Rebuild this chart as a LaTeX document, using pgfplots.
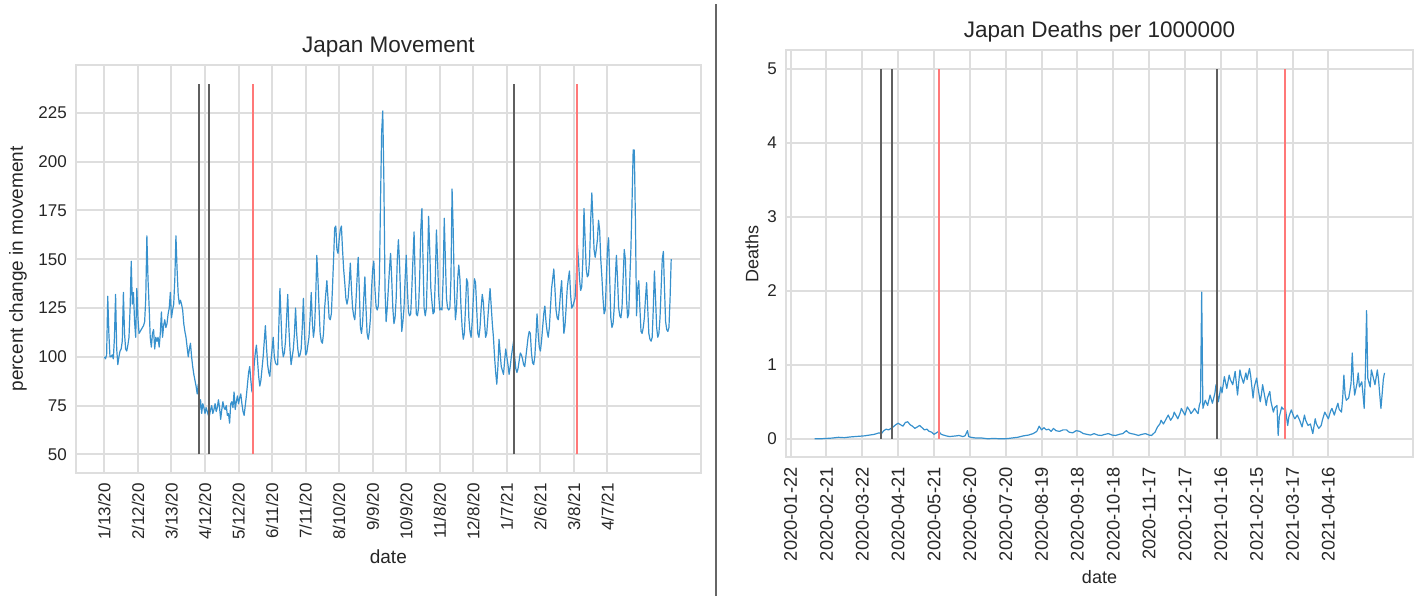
\documentclass[border=0pt]{standalone}
\usepackage{fontspec}
\setmainfont{Liberation Sans}
\usepackage{pgfplots}
\pgfplotsset{compat=1.18}
\definecolor{lineblue}{RGB}{55,145,205}
\definecolor{gridgray}{RGB}{222,222,222}
\definecolor{txt}{RGB}{38,38,38}
\definecolor{vblack}{RGB}{95,95,95}
\definecolor{vred}{RGB}{255,120,120}
\pgfplotsset{
  jstyle/.style={
    scale only axis,
    axis line style={draw=gridgray, line width=2pt},
    grid=major,
    major grid style={draw=gridgray, line width=2pt},
    major tick length=0pt,
    tick label style={font=\fontsize{17}{19}\selectfont, text=txt},
    /pgf/number format/assume math mode=true,
    label style={font=\fontsize{19}{21}\selectfont, text=txt},
    title style={font=\fontsize{22.5}{24}\selectfont, text=txt, inner sep=0pt, anchor=south, at={(0.5,1)}, yshift=2pt},
    xticklabel style={rotate=90, anchor=east, inner sep=0pt},
    yticklabel style={anchor=east, inner sep=0pt},
    xticklabel shift=10pt,
    yticklabel shift=9pt,
    xtick={0,30,...,450},
  },
  dataline/.style={color=lineblue, line width=1.2pt, line join=round},
  vk/.style={color=vblack, line width=2pt},
  vr/.style={color=vred, line width=2pt},
}
\begin{document}
\begin{tikzpicture}
\path (0pt,0pt) rectangle (1420pt,596pt);
\draw[black!60, line width=1.2pt] (716pt,0pt) -- (716pt,592pt);
% ---------------- left ----------------
\begin{axis}[jstyle,
  at={(76pt,123pt)}, anchor=south west,
  width=624.7pt, height=408pt,
  xmin=-25.4, xmax=533.4, ymin=40.5, ymax=249.5,
  ytick={50,75,...,225},
  xticklabels={1/13/20,2/12/20,3/13/20,4/12/20,5/12/20,6/11/20,7/11/20,8/10/20,9/9/20,10/9/20,11/8/20,12/8/20,1/7/21,2/6/21,3/8/21,4/7/21},
  title={Japan Movement},
  xlabel={date}, ylabel={percent change in movement},
  xlabel style={at={(axis description cs:0.5,0)}, anchor=center, yshift=-84pt},
  ylabel style={at={(axis description cs:-0.093,0.5)}, anchor=center},
]
\addplot[dataline] coordinates {
(0,100)(1,99)(2,101)(3,131)(4,112)(5,100)(6,100)(7,101)(8,99)(9,110)(10,132)(11,104)(12,96)(13,100)(14,103)(15,104)(16,108)(17,133)(18,112)(19,104)(20,103)(21,106)(22,110)(23,125)(24,149)(25,127)(26,133)(27,118)(28,110)(29,135)(30,120)(31,112)(32,113)(33,114)(34,115)(35,116)(36,118)(37,130)(38,162)(39,140)(40,126)(41,110)(42,105)(43,112)(44,114)(45,104)(46,110)(47,108)(48,110)(49,105)(50,112)(51,123)(52,110)(53,116)(54,119)(55,115)(56,117)(57,122)(58,125)(59,133)(60,120)(61,124)(62,127)(63,140)(64,162)(65,145)(66,132)(67,127)(68,129)(69,127)(70,124)(71,117)(72,113)(73,110)(74,105)(75,100)(76,104)(77,107)(78,100)(79,95)(80,91)(81,88)(82,85)(83,81)(84,86)(85,73)(86,78)(87,71)(88,76)(89,74)(90,71)(91,74)(92,72)(93,70)(94,70)(95,73)(96,75)(97,71)(98,73)(99,76)(100,72)(101,74)(102,78)(103,74)(104,68)(105,73)(106,77)(107,74)(108,73)(109,75)(110,70)(111,71)(112,66)(113,76)(114,77)(115,74)(116,82)(117,73)(118,77)(119,80)(120,76)(121,79)(122,81)
(123,76)(124,72)(125,70)(126,75)(127,80)(128,86)(129,92)(130,95)(131,88)(132,82)(133,85)(134,96)(135,102)(136,106)(137,98)(138,90)(139,85)(140,88)(141,94)(142,100)(143,108)(144,116)(145,105)(146,96)(147,92)(148,90)(149,98)(150,104)(151,110)(152,100)(153,97)(154,96)(155,96)(156,115)(157,135)(158,120)(159,105)(160,100)(161,102)(162,108)(163,120)(164,132)(165,115)(166,104)(167,96)(168,100)(169,104)(170,112)(171,125)(172,112)(173,104)(174,100)(175,101)(176,104)(177,115)(178,130)(179,112)(180,101)(181,102)(182,106)(183,110)(184,120)(185,133)(186,118)(187,110)(188,115)(189,130)(190,152)(191,140)(192,125)(193,112)(194,108)(195,107)(196,112)(197,125)(198,132)(199,139)(200,130)(201,120)(202,119)(203,122)(204,135)(205,150)(206,166)(207,167)(208,155)(209,153)(210,160)(211,165)(212,167)(213,155)(214,145)(215,138)(216,130)(217,127)(218,130)(219,138)(220,148)(221,135)(222,125)(223,121)(224,119)(225,128)(226,140)(227,151)(228,135)(229,115)(230,112)(231,118)(232,130)(233,141)(234,125)(235,112)(236,109)(237,113)(238,120)(239,135)(240,145)(241,149)(242,135)(243,126)(244,124)(245,126)(246,140)(247,180)(248,215)(249,226)(250,190)(251,135)(252,118)
(253,125)(254,135)(255,145)(256,153)(257,140)(258,125)(259,117)(260,120)(261,130)(262,150)(263,160)(264,148)(265,130)(266,113)(267,118)(268,125)(269,140)(270,152)(271,135)(272,123)(273,121)(274,122)(275,135)(276,150)(277,164)(278,140)(279,122)(280,121)(281,125)(282,140)(283,165)(284,176)(285,150)(286,125)(287,121)(288,125)(289,145)(290,172)(291,155)(292,135)(293,128)(294,122)(295,123)(296,140)(297,165)(298,150)(299,132)(300,124)(301,125)(302,124)(303,140)(304,171)(305,150)(306,130)(307,125)(308,124)(309,125)(310,140)(311,186)(312,165)(313,135)(314,119)(315,125)(316,140)(317,147)(318,140)(319,125)(320,115)(321,109)(322,112)(323,125)(324,140)(325,138)(326,120)(327,113)(328,110)(329,118)(330,130)(331,140)(332,138)(333,125)(334,112)(335,110)(336,115)(337,125)(338,132)(339,128)(340,118)(341,110)(342,112)(343,120)(344,128)(345,135)(346,126)(347,117)(348,110)(349,100)(350,92)(351,86)(352,95)(353,109)(354,102)(355,95)(356,93)(357,91)(358,98)(359,104)(360,100)(361,96)(362,91)(363,95)(364,100)(365,104)(366,108)(367,100)(368,94)(369,92)(370,94)(371,98)(372,102)(373,101)(374,99)(375,96)(376,95)(377,100)(378,105)(379,110)(380,113)(381,112)
(382,102)(383,97)(384,96)(385,100)(386,110)(387,122)(388,112)(389,105)(390,103)(391,108)(392,115)(393,122)(394,126)(395,118)(396,113)(397,110)(398,115)(399,125)(400,135)(401,140)(402,145)(403,135)(404,124)(405,120)(406,119)(407,125)(408,133)(409,139)(410,125)(411,112)(412,116)(413,125)(414,135)(415,140)(416,144)(417,132)(418,125)(419,126)(420,128)(421,130)(422,140)(423,158)(424,150)(425,140)(426,134)(427,136)(428,150)(429,176)(430,160)(431,145)(432,141)(433,142)(434,150)(435,170)(436,184)(437,170)(438,155)(439,151)(440,155)(441,160)(442,170)(443,165)(444,150)(445,141)(446,130)(447,122)(448,124)(449,140)(450,155)(451,161)(452,140)(453,120)(454,115)(455,117)(456,125)(457,140)(458,152)(459,140)(460,125)(461,121)(462,120)(463,125)(464,140)(465,155)(466,150)(467,130)(468,120)(469,122)(470,140)(471,156)(472,180)(473,206)(474,206)(475,170)(476,121)(477,135)(478,139)(479,125)(480,113)(481,112)(482,115)(483,120)(484,130)(485,138)(486,125)(487,112)(488,109)(489,108)(490,110)(491,125)(492,144)(493,130)(494,115)(495,110)(496,112)(497,120)(498,135)(499,150)(500,154)(501,135)(502,118)(503,114)(504,113)(505,115)(506,130)(507,150)
};
\addplot[vk] coordinates {(85,50) (85,240)};
\addplot[vk] coordinates {(94,50) (94,240)};
\addplot[vr] coordinates {(133,50) (133,240)};
\addplot[vk] coordinates {(366,50) (366,240)};
\addplot[vr] coordinates {(423,50) (423,240)};
\end{axis}
% ---------------- right ----------------
\begin{axis}[jstyle,
  at={(786pt,138.7pt)}, anchor=south west,
  width=627pt, height=407.3pt,
  xmin=-3.85, xmax=520.85, ymin=-0.25, ymax=5.25,
  ytick={0,1,2,3,4,5},
  xticklabel style={font=\fontsize{18.3}{20}\selectfont},
  label style={font=\fontsize{18}{20}\selectfont},
  xticklabels={2020-01-22,2020-02-21,2020-03-22,2020-04-21,2020-05-21,2020-06-20,2020-07-20,2020-08-19,2020-09-18,2020-10-18,2020-11-17,2020-12-17,2021-01-16,2021-02-15,2021-03-17,2021-04-16},
  title={Japan Deaths per 1000000},
  xlabel={date}, ylabel={Deaths},
  xlabel style={at={(axis description cs:0.5,0)}, anchor=center, yshift=-120pt},
  ylabel style={at={(axis description cs:-0.0542,0.5)}, anchor=center},
]
\addplot[dataline] coordinates {
(20,0)(25,0)(30,0.005)(35,0.01)(40,0.02)(45,0.015)(50,0.025)(54,0.03)(58,0.035)(62,0.04)(66,0.05)(70,0.06)(74,0.08)(76,0.07)(78,0.11)(80,0.13)(82,0.12)(85,0.15)(88,0.19)(90,0.21)(92,0.19)(94,0.17)(96,0.22)(98,0.23)(100,0.19)(102,0.17)(104,0.14)(106,0.16)(108,0.18)(110,0.15)(112,0.12)(114,0.13)(116,0.10)(118,0.09)(120,0.06)(122,0.08)(124,0.1)(126,0.06)(128,0.05)(130,0.04)(133,0.03)(136,0.035)(139,0.04)(141,0.045)(144,0.03)(146,0.04)(148,0.11)(149,0.03)(151,0.02)(155,0.01)(160,0.01)(165,0)(170,0.005)(175,0)(180,0)(185,0.01)(190,0.02)(195,0.04)(199,0.05)(203,0.07)(206,0.1)(208,0.17)(210,0.12)(212,0.15)(214,0.12)(216,0.13)(218,0.1)(220,0.14)(222,0.11)(225,0.1)(228,0.12)(231,0.12)(233,0.09)(236,0.08)(239,0.11)(242,0.1)(245,0.07)(248,0.06)(251,0.05)(254,0.07)(257,0.05)(260,0.045)(263,0.06)(266,0.07)(269,0.05)(272,0.045)(275,0.06)(278,0.07)(281,0.11)(283,0.08)(285,0.07)(288,0.06)(291,0.045)(294,0.06)(297,0.07)(300,0.05)(302,0.045)(305,0.09)(307,0.16)(309,0.2)(310,0.25)(312,0.2)(314,0.26)(316,0.32)(318,0.25)(320,0.3)(321,0.36)(323,0.3)(324,0.27)(326,0.35)(327,0.41)(329,0.35)(330,0.32)(332,0.43)(334,0.38)(335,0.34)(337,0.38)(338,0.41)(340,0.36)(341,0.34)(342,0.45)(343,0.5)(344,1.98)(345,0.41)(347,0.52)(349,0.45)(351,0.59)(353,0.48)(355,0.61)(356,0.73)(358,0.5)(360,0.7)(361,0.62)(363,0.84)(365,0.68)(367,0.86)(368,0.8)(370,0.73)(372,0.91)(374,0.59)(376,0.93)(377,0.85)(379,0.75)(381,0.89)(382,0.8)(384,0.95)(385,0.85)(387,0.55)(388,0.7)(390,0.82)(391,0.7)(393,0.5)(394,0.6)(395,0.73)(397,0.55)(398,0.45)(399,0.55)(401,0.64)(402,0.5)(404,0.36)(405,0.42)(407,0.45)(408,0.045)(409,0.3)(411,0.43)(412,0.4)(414,0.41)(416,0.18)(417,0.3)(419,0.39)(421,0.3)(422,0.27)(424,0.32)(426,0.25)(428,0.16)(430,0.32)(431,0.25)(433,0.18)(435,0.2)(437,0.07)(439,0.27)(440,0.2)(442,0.14)(444,0.18)(445,0.25)(447,0.36)(449,0.3)(450,0.27)(452,0.38)(453,0.41)(455,0.32)(456,0.38)(458,0.48)(459,0.4)(461,0.36)(462,0.55)(463,0.86)(464,0.6)(465,0.52)(467,0.55)(468,0.64)(469,0.75)(470,1.16)(471,0.8)(472,0.59)(474,0.75)(475,0.89)(476,0.7)(478,0.77)(479,0.6)(480,0.41)(481,0.9)(482,1.73)(483,0.82)(485,0.7)(486,0.93)(488,0.8)(489,0.73)(491,0.93)(492,0.8)(493,0.6)(494,0.41)(495,0.6)(496,0.8)(497,0.89)
};
\addplot[vk] coordinates {(76,0) (76,5)};
\addplot[vk] coordinates {(85,0) (85,5)};
\addplot[vr] coordinates {(124,0) (124,5)};
\addplot[vk] coordinates {(357,0) (357,5)};
\addplot[vr] coordinates {(414,0) (414,5)};
\end{axis}
\end{tikzpicture}
\end{document}
